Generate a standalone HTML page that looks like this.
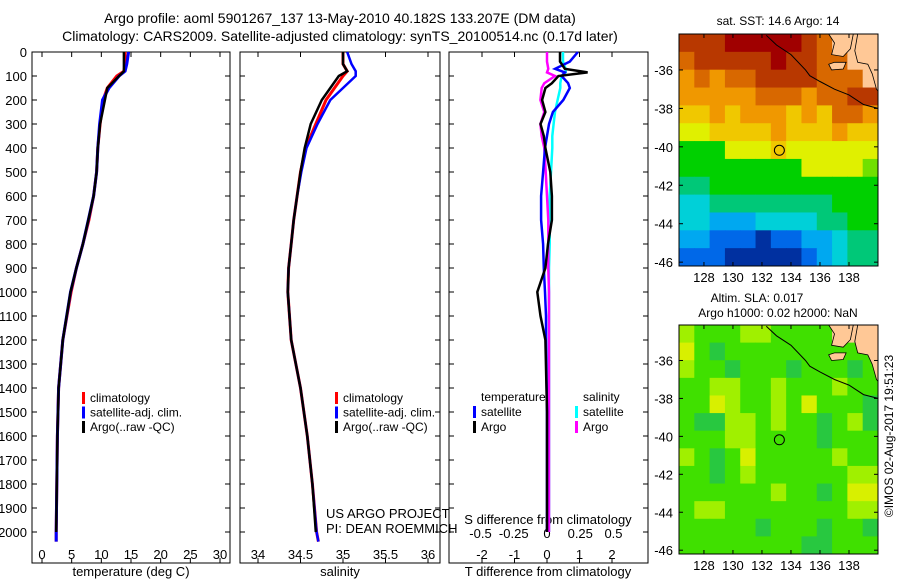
<!DOCTYPE html>
<html><head><meta charset="utf-8"><style>
body{margin:0;background:#fff;}
svg{display:block;font-family:"Liberation Sans",sans-serif;}
text{fill:#000;}
</style></head><body>
<svg id="chart" width="900" height="580" viewBox="0 0 900 580">
<text x="340" y="23" font-size="14" text-anchor="middle">Argo profile: aoml 5901267_137 13-May-2010 40.182S 133.207E (DM data)</text>
<text x="340" y="41" font-size="14" text-anchor="middle">Climatology: CARS2009. Satellite-adjusted climatology: synTS_20100514.nc (0.17d later)</text>
<g id="g"></g>
</svg>
<script>
// ---- profile data ----
const depths=[0,50,80,100,150,200,300,400,500,600,700,800,900,1000,1200,1400,1600,1800,2000,2040];
const tempArgo=[13.8,13.8,13.8,13.0,11.0,10.6,9.8,9.4,9.2,8.7,7.8,6.9,5.8,4.8,3.5,2.8,2.6,2.5,2.4,2.4];
const tempSat=[14.6,14.3,14.0,13.0,11.3,10.2,9.7,9.4,9.2,8.7,7.8,6.9,5.8,4.8,3.5,2.8,2.6,2.5,2.4,2.4];
const tempClim=[14.0,14.0,13.8,12.6,11.0,10.3,9.8,9.4,9.2,8.7,7.9,6.9,5.8,4.9,3.5,2.8,2.6,2.5,2.4,2.4];
const salArgo=[35.0,35.0,35.05,34.95,34.85,34.75,34.62,34.55,34.5,34.46,34.42,34.39,34.36,34.35,34.39,34.5,34.58,34.64,34.68,34.7];
const salSat=[35.05,35.1,35.15,35.15,35.0,34.85,34.7,34.57,34.51,34.46,34.42,34.39,34.36,34.35,34.39,34.5,34.58,34.64,34.69,34.71];
const salClim=[35.0,35.0,35.05,35.0,34.9,34.8,34.68,34.56,34.5,34.46,34.42,34.39,34.36,34.35,34.39,34.5,34.58,34.64,34.69,34.71];
const diffDepths=[0,40,70,85,100,130,150,200,250,300,350,400,500,600,700,800,900,1000,1100,1200,1500,2000];
const dTArgo=[0.4,0.4,0.55,1.25,0.35,0.15,-0.05,-0.15,-0.05,-0.2,-0.1,-0.05,0.1,0.15,0.15,0.03,-0.05,-0.3,-0.2,-0.05,0,0];
const dTSat=[0.95,0.7,0.25,0.55,0.45,0.65,0.7,0.5,0.18,0.06,0,-0.06,-0.12,-0.18,-0.18,-0.12,-0.1,-0.06,-0.03,-0.03,0,0];
const dSArgo=[0,0,0.01,0,0.06,-0.02,-0.04,-0.05,-0.02,-0.05,-0.04,-0.02,-0.01,0,0.01,0.01,0.01,0.015,0.015,0.015,0.015,0.015];
const dSSat=[0.12,0.12,0.14,0.14,0.11,0.1,0.1,0.08,0.06,0.05,0.04,0.04,0.03,0.02,0.02,0.02,0.015,0.015,0.015,0.015,0.015,0.015];
const depthTicks=[0,100,200,300,400,500,600,700,800,900,1000,1100,1200,1300,1400,1500,1600,1700,1800,1900,2000];
const tTicks=[0,5,10,15,20,25,30];
const sTicks=[34,34.5,35,35.5,36];
const dtTicks=[-2,-1,0,1,2];
const dsTicks=[-0.5,-0.25,0,0.25,0.5];
const dsTickLabels=["-0.5","-0.25","0","0.25","0.5"];
const lonTicks=[128,130,132,134,136,138];
const latTicks=[-36,-38,-40,-42,-44,-46];
const argoLon=133.2, argoLat=-40.18;
// map grids (rows north→south), chars = colour levels
const sstGrid=["bbbcccccbaLLL","abbbbbcbbaaLL","9a9aabbbbaaaL","99999aaa9aabb","8898999898aa9","7788889888988","5557778777777","5555555577776","4455555555555","3344444444555","3322233334455","2211101122344","1110000012344"];
const slaGrid=["ymmmyymmmmLLL","Ymgmmmmmmmmmm","ymmgmmmgmmmgm","mmyymmymmmymm","mmYymmymYmmmg","mggyymymmgmyg","mmmyymmmmgmmm","ymgmYmmmmmymm","mmgmymmmmmmyy","mmmmmmymmgmYY","myymmmmmmmmyy","mmmmmgmmmgmmg","mmmmmmmmggmmm"];
const coastLon=[132.3,133,134,135,135.3,136,137,138,139,140];
const coastLat=[-34.2,-34.7,-35.2,-36,-36.3,-36.6,-37,-37.3,-37.8,-38];

const sstColors={"0":"#0030a0","1":"#0068e8","2":"#00a8f0","3":"#00d0d8","4":"#00c878","5":"#00d000","6":"#70e000","7":"#e0f000","8":"#f0c800","9":"#f09800","a":"#d86800","b":"#b83800","c":"#a00000","L":"#ffc896"};
const slaColors={"m":"#40e000","g":"#28c840","y":"#a0f000","Y":"#d8f000","L":"#ffc896"};

const NS="http://www.w3.org/2000/svg";
const g=document.getElementById('g');
function el(tag,attrs,parent){const e=document.createElementNS(NS,tag);for(const k in attrs)e.setAttribute(k,attrs[k]);(parent||g).appendChild(e);return e;}
function txt(x,y,s,size,anchor,parent){const t=el('text',{x:x,y:y,'font-size':size,'text-anchor':anchor||'middle'},parent);t.textContent=s;return t;}

const TOP=52,BOT=563;
const yD=d=>TOP+d*0.24;
const panels=[{l:32,r:230},{l:240,r:440},{l:449,r:648}];
const xT=t=>42+t*(178/30);
const xS=s=>258+(s-34)*85;
const xDT=v=>547+v*32.5;
const xDS=v=>547+v*133;

function line(xs,ys,xf,color,w,name){
  let d='';for(let i=0;i<xs.length;i++){d+=(i?'L':'M')+xf(xs[i]).toFixed(1)+' '+yD(ys[i]).toFixed(1);}
  const p=el('path',{d:d,fill:'none',stroke:color,'stroke-width':w});
  
  
}

panels.forEach((p,i)=>{
  const r=el('rect',{x:p.l,y:TOP,width:p.r-p.l,height:BOT-TOP,fill:'none',stroke:'#000','stroke-width':1});
  
  
  depthTicks.forEach(d=>{
    el('line',{x1:p.l,x2:p.l+5,y1:yD(d),y2:yD(d),stroke:'#000'});
    el('line',{x1:p.r-5,x2:p.r,y1:yD(d),y2:yD(d),stroke:'#000'});
  });
});
depthTicks.forEach(d=>{const t=txt(27,yD(d)+5,String(d),13,'end');
  
  });

function xticks(ticks,xf,labels,y,size,tickName){
  ticks.forEach((v,i)=>{
    const x=xf(v);
    el('line',{x1:x,x2:x,y1:TOP,y2:TOP+5,stroke:'#000'});
    el('line',{x1:x,x2:x,y1:BOT-5,y2:BOT,stroke:'#000'});
    const t=txt(x,y,labels?labels[i]:String(v),13);
    
    
  });
}
xticks(tTicks,xT,null,559,13,'temperature-tick-label');
xticks(sTicks,xS,null,559,13,'salinity-tick-label');
xticks(dtTicks,xDT,null,559,13,'t-diff-tick-label');
dsTicks.forEach((v,i)=>{const t=txt(xDS(v),538,dsTickLabels[i],13);
  
  });

let t;
t=txt(131,576,'temperature (deg C)',13);
t=txt(340,576,'salinity',13);
t=txt(548,576,'T difference from climatology',13);
t=txt(548,524,'S difference from climatology',13);
t=txt(326,518,'US ARGO PROJECT',13,'start');
t=txt(326,533,'PI: DEAN ROEMMICH',13,'start');

// profile lines
line(tempClim,depths,xT,'#f00',3,'temperature-climatology-line');
line(tempSat,depths,xT,'#00f',3,'temperature-satellite-line');
line(tempArgo,depths.slice(0,19),xT,'#000',2.5,'temperature-argo-line');
line(salClim,depths,xS,'#f00',3,'salinity-climatology-line');
line(salSat,depths,xS,'#00f',2.5,'salinity-satellite-line');
line(salArgo,depths.slice(0,19),xS,'#000',2.5,'salinity-argo-line');
line(dSSat,diffDepths,xDS,'#0ff',2.5,'s-diff-satellite-line');
line(dSArgo,diffDepths,xDS,'#f0f',2.5,'s-diff-argo-line');
line(dTSat,diffDepths,xDT,'#00f',2.5,'t-diff-satellite-line');
line(dTArgo,diffDepths,xDT,'#000',2.5,'t-diff-argo-line');

// legends
function legend(x,y,color,label,name){
  el('rect',{x:x-8,y:y-10,width:3,height:12,fill:color});
  const tt=txt(x,y,label,12,'start');
  
  
}
[[90,'climatology','#f00'],[90,'satellite-adj. clim.','#00f'],[90,'Argo(..raw -QC)','#000']].forEach((a,i)=>{
  legend(a[0],402+i*14.5,a[2],a[1],'temp-legend-entry');
  legend(a[0]+253,402+i*14.5,a[2],a[1],'sal-legend-entry');
});
t=txt(481,401,'temperature',12,'start');
t=txt(583,401,'salinity',12,'start');
legend(481,416,'#00f','satellite','diff-legend-t-satellite');
legend(481,431,'#000','Argo','diff-legend-t-argo');
legend(583,416,'#0ff','satellite','diff-legend-s-satellite');
legend(583,431,'#f0f','Argo','diff-legend-s-argo');

// maps
const ML=679,MR=878,LON0=126.28,LON1=140.0;
const xL=lon=>ML+(lon-LON0)/(LON1-LON0)*(MR-ML);
function drawMap(top,bot,grid,colors,name){
  const LAT0=-34.13,LAT1=-46.2;
  const yL=lat=>top+(lat-LAT0)/(LAT1-LAT0)*(bot-top);
  const grp=el('g',{});
  
  
  const rows=grid.length,cols=grid[0].length;
  const cw=(MR-ML)/cols,ch=(bot-top)/rows;
  for(let r=0;r<rows;r++)for(let c=0;c<cols;c++){
    el('rect',{x:ML+c*cw,y:top+r*ch,width:cw+0.5,height:ch+0.5,fill:colors[grid[r][c]]},grp);
  }
  // land
  const land=[[136.6,-34.13],[137.0,-34.6],[136.8,-35.2],[137.6,-35.3],[138.1,-34.9],[138.3,-34.13]];
  const land2=[[138.6,-34.13],[138.4,-35.0],[138.6,-35.6],[139.3,-35.7],[139.6,-36.2],[139.9,-37.0],[140,-37.1],[140,-34.13]];
  const ki=[[136.6,-35.7],[137.0,-35.6],[137.8,-35.6],[137.6,-35.95],[136.8,-36.0]];
  [land,land2,ki].forEach(pl=>{
    el('polygon',{points:pl.map(p=>xL(p[0]).toFixed(1)+','+yL(p[1]).toFixed(1)).join(' '),fill:'#ffc896',stroke:'#000','stroke-width':0.8},grp);
  });
  let d='';coastLon.forEach((lo,i)=>{d+=(i?'L':'M')+xL(lo).toFixed(1)+' '+yL(coastLat[i]).toFixed(1);});
  const cl=el('path',{d:d,fill:'none',stroke:'#000','stroke-width':1},grp);
  
  
  const mk=el('circle',{cx:xL(argoLon),cy:yL(argoLat),r:5,fill:'none',stroke:'#000','stroke-width':1},grp);
  
  
  el('rect',{x:ML,y:top,width:MR-ML,height:bot-top,fill:'none',stroke:'#000'},grp);
  lonTicks.forEach(lo=>{
    el('line',{x1:xL(lo),x2:xL(lo),y1:top,y2:top+4,stroke:'#000'},grp);
    el('line',{x1:xL(lo),x2:xL(lo),y1:bot-4,y2:bot,stroke:'#000'},grp);
    const tt=txt(xL(lo),bot+16,String(lo),13,'middle',grp);
    
    
  });
  latTicks.forEach(la=>{
    el('line',{x1:ML,x2:ML+4,y1:yL(la),y2:yL(la),stroke:'#000'},grp);
    el('line',{x1:MR-4,x2:MR,y1:yL(la),y2:yL(la),stroke:'#000'},grp);
    const tt=txt(673,yL(la)+5,String(la),13,'end',grp);
    
    
  });
}
drawMap(34,266,sstGrid,sstColors,'sst-map');
drawMap(325,554,slaGrid,slaColors,'sla-map');
t=txt(778,25,'sat. SST: 14.6 Argo: 14',12);
t=txt(757,302,'Altim. SLA: 0.017',12);
t=txt(778,317,'Argo h1000: 0.02 h2000: NaN',12);
t=txt(0,0,'©IMOS 02-Aug-2017 19:51:23',12);t.setAttribute('transform','translate(893,436) rotate(-90)');


</script>
</body></html>
